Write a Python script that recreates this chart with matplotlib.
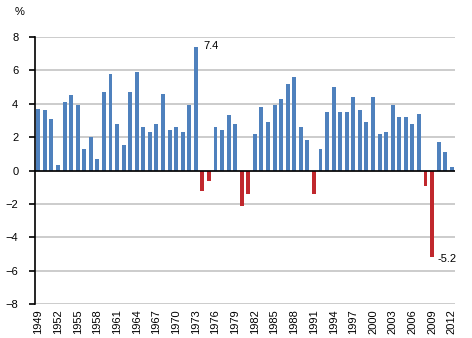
import matplotlib
matplotlib.use("Agg")
import matplotlib.pyplot as plt
import numpy as np

# annual change, %
years = list(range(1949, 2013))
values = [3.7, 3.6, 3.1, 0.3, 4.1, 4.5, 3.9, 1.3, 2.0, 0.7,
          4.7, 5.8, 2.8, 1.5, 4.7, 5.9, 2.6, 2.3, 2.8, 4.6,
          2.4, 2.6, 2.3, 3.9, 7.4, -1.2, -0.6, 2.6, 2.4, 3.3,
          2.8, -2.1, -1.4, 2.2, 3.8, 2.9, 3.9, 4.3, 5.2, 5.6,
          2.6, 1.8, -1.4, 1.3, 3.5, 5.0, 3.5, 3.5, 4.4, 3.6,
          2.9, 4.4, 2.2, 2.3, 3.9, 3.2, 3.2, 2.8, 3.4, -0.9,
          -5.2, 1.7, 1.1, 0.2]
labelled = {1973: "7.4", 2009: "-5.2"}

plt.rcParams['font.family'] = ['Liberation Sans', 'DejaVu Sans']

fig = plt.figure(figsize=(4.72, 3.38), dpi=100)
ax = fig.add_axes([0.0742, 0.1006, 0.8898, 0.7899])

x = np.arange(len(years))
vals = np.array(values)
colors = ['#4F81BD' if v >= 0 else '#C0282D' for v in vals]
ax.bar(x, vals, width=0.6, color=colors, zorder=3)

# gridlines and zero line
for g in range(-8, 9, 2):
    ax.axhline(g, color='#BEBEBE', linewidth=1.1, zorder=1)
ax.axhline(0, color='black', linewidth=1.2, zorder=4)

for yr, txt in labelled.items():
    i = years.index(yr)
    v = values[i]
    if v > 0:
        ax.text(i + 1.2, v + 0.05, txt, fontsize=8, ha='left', va='center')
    else:
        ax.text(i + 0.8, v - 0.1, txt, fontsize=8, ha='left', va='center')

ax.set_xlim(-0.5, len(years) - 0.5)
ax.set_ylim(-8, 8)
ax.set_yticks(range(-8, 9, 2))
ax.set_xticks(x[::3])
ax.set_xticklabels([str(y) for y in years[::3]], rotation=90, fontsize=8)
ax.tick_params(axis='y', labelsize=8, length=4, width=1.2, direction='out', pad=8)
ax.tick_params(axis='x', length=0, pad=4)

for s in ['top', 'right', 'bottom']:
    ax.spines[s].set_visible(False)
ax.spines['left'].set_linewidth(1.2)

fig.text(0.031, 0.965, '%', fontsize=8, ha='left', va='center')

fig.savefig('out.png', dpi=100)
